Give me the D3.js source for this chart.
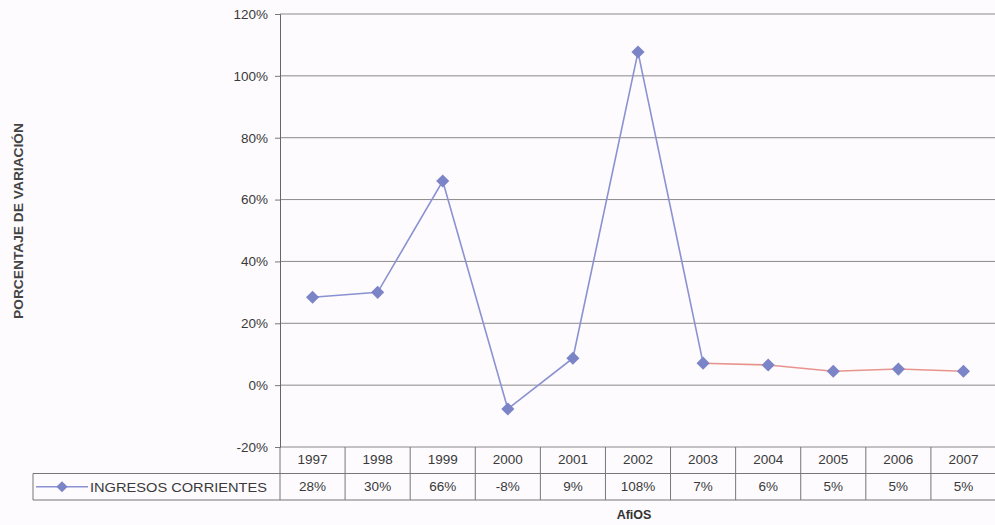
<!DOCTYPE html>
<html>
<head>
<meta charset="utf-8">
<script src="https://cdn.jsdelivr.net/npm/d3@7"></script>
<style>
  body { margin: 0; background: #fdfbfd; }
  svg { display: block; font-family: Arial, 'Liberation Sans', sans-serif; }
</style>
</head>
<body>
<svg width="995" height="525"></svg>
<script>
var years = ['1997', '1998', '1999', '2000', '2001', '2002', '2003', '2004', '2005', '2006', '2007'];
var values = [28.4, 30, 66, -7.7, 8.7, 107.7, 7.1, 6.5, 4.5, 5.2, 4.5];
var labels = ['28%', '30%', '66%', '-8%', '9%', '108%', '7%', '6%', '5%', '5%', '5%'];
var yTicks = [-20, 0, 20, 40, 60, 80, 100, 120];
var seriesName = 'INGRESOS CORRIENTES';

var svg = d3.select('svg');
// note: "top" is reserved on window, so use plot* names
var plotL = 280, plotR = 996, plotT = 14, plotB = 447;
var textCol = '#3a3a3a';

var x = d3.scaleBand().domain(years).range([plotL, plotR]);
var y = d3.scaleLinear().domain([-20, 120]).range([plotB, plotT]);

// grid
svg.append('g').selectAll('line')
  .data(yTicks)
  .enter().append('line')
  .attr('x1', plotL).attr('x2', plotR)
  .attr('y1', function (d) { return y(d); })
  .attr('y2', function (d) { return y(d); })
  .style('stroke', '#8a8a8a').style('stroke-width', 1);

// y axis
var yAxis = d3.axisLeft(y).tickValues(yTicks).tickSize(5).tickPadding(7)
  .tickFormat(function (d) { return d + '%'; });
var ga = svg.append('g').attr('transform', 'translate(' + plotL + ',0)').call(yAxis);
ga.select('.domain').style('stroke', '#666');
ga.selectAll('.tick line').style('stroke', '#777');
ga.selectAll('text').style('font-size', '13.5px').style('fill', textCol)
  .style('font-family', 'Arial, "Liberation Sans", sans-serif');

// line segments
var pts = years.map(function (yr, i) { return [x(yr) + x.bandwidth() / 2, y(values[i])]; });
var line = d3.line();
svg.append('path').attr('d', line(pts.slice(0, 7)))
  .style('fill', 'none').style('stroke', '#8a92d2').style('stroke-width', 1.6);
svg.append('path').attr('d', line(pts.slice(6)))
  .style('fill', 'none').style('stroke', '#e8948e').style('stroke-width', 1.6);

// markers
svg.append('g').selectAll('path')
  .data(pts)
  .enter().append('path')
  .attr('d', d3.symbol().type(d3.symbolDiamond2).size(110))
  .attr('transform', function (d) { return 'translate(' + d[0] + ',' + d[1] + ')'; })
  .style('fill', '#7b84c6');

// data table
var rowH = 26.5;
var t = svg.append('g').style('font-size', '13.5px').style('fill', textCol);
var gridStroke = '#777';
t.append('line').attr('x1', plotL).attr('x2', plotR).attr('y1', plotB + rowH).attr('y2', plotB + rowH).style('stroke', gridStroke);
t.append('line').attr('x1', 33).attr('x2', plotR).attr('y1', plotB + 2 * rowH).attr('y2', plotB + 2 * rowH).style('stroke', gridStroke);
t.append('line').attr('x1', 33).attr('x2', plotL).attr('y1', plotB + rowH).attr('y2', plotB + rowH).style('stroke', gridStroke);
t.append('line').attr('x1', 33).attr('x2', 33).attr('y1', plotB + rowH).attr('y2', plotB + 2 * rowH).style('stroke', gridStroke);
t.selectAll('.vl').data(years.concat(['end']))
  .enter().append('line')
  .attr('x1', function (d, i) { return plotL + i * x.bandwidth(); })
  .attr('x2', function (d, i) { return plotL + i * x.bandwidth(); })
  .attr('y1', plotB).attr('y2', plotB + 2 * rowH)
  .style('stroke', gridStroke);
t.selectAll('.yr').data(years)
  .enter().append('text')
  .attr('x', function (d) { return x(d) + x.bandwidth() / 2; })
  .attr('y', plotB + rowH / 2 + 4)
  .attr('text-anchor', 'middle')
  .text(function (d) { return d; });
t.selectAll('.val').data(labels)
  .enter().append('text')
  .attr('x', function (d, i) { return x(years[i]) + x.bandwidth() / 2; })
  .attr('y', plotB + rowH * 1.5 + 4)
  .attr('text-anchor', 'middle')
  .text(function (d) { return d; });

// legend key
var ly = plotB + rowH * 1.5;
t.append('line').attr('x1', 36).attr('x2', 88).attr('y1', ly).attr('y2', ly)
  .style('stroke', '#8a92d2').style('stroke-width', 1.6);
t.append('path').attr('d', d3.symbol().type(d3.symbolDiamond2).size(80))
  .attr('transform', 'translate(62,' + ly + ')').style('fill', '#7b84c6');
t.append('text').attr('x', 90).attr('y', ly + 5)
  .attr('textLength', 177).attr('lengthAdjust', 'spacingAndGlyphs')
  .text(seriesName);

// axis titles
svg.append('text')
  .attr('transform', 'translate(23,221) rotate(-90)')
  .attr('text-anchor', 'middle')
  .attr('textLength', 196).attr('lengthAdjust', 'spacingAndGlyphs')
  .style('font-size', '12px').style('font-weight', 'bold').style('fill', '#444')
  .text('PORCENTAJE DE VARIACIÓN');
svg.append('text')
  .attr('x', 634).attr('y', 519)
  .attr('text-anchor', 'middle')
  .style('font-size', '12.5px').style('font-weight', 'bold').style('fill', '#333')
  .text('AfiOS');
</script>
</body>
</html>
